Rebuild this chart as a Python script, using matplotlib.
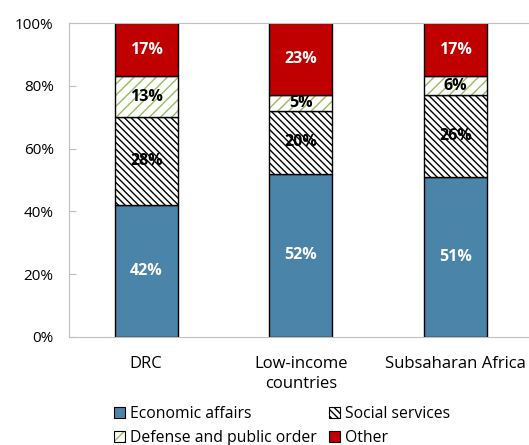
import matplotlib.pyplot as plt
import matplotlib.patches as mpatches
import numpy as np

plt.rcParams['font.family'] = ['Open Sans', 'DejaVu Sans']

categories = ['DRC', 'Low-income\ncountries', 'Subsaharan Africa']
series = ['Economic affairs', 'Social services', 'Defense and public order', 'Other']
economic = [42, 52, 51]
social = [28, 20, 26]
defense = [13, 5, 6]
other = [17, 23, 17]
yticks = [0, 20, 40, 60, 80, 100]

values = [economic, social, defense, other]
fills = ['#4a84a8', 'white', 'white', '#c00000']
hatches = [None, '\\\\\\\\\\', '///', None]
hatch_colors = ['#4a84a8', 'black', '#9bbb59', '#c00000']
text_colors = ['white', 'black', 'black', 'white']

fig = plt.figure(figsize=(5.29, 4.45), dpi=100)
ax = fig.add_axes([0.1304, 0.2427, 0.8696, 0.7056])

x = np.arange(len(categories))
w = 0.41
bottom = np.zeros(len(categories))
handles = []
for vals, fc, h, hc, tc, name in zip(values, fills, hatches, hatch_colors, text_colors, series):
    vals = np.array(vals, dtype=float)
    ax.bar(x, vals, w, bottom=bottom, color=fc, hatch=h, edgecolor=hc, linewidth=0)
    ax.bar(x, vals, w, bottom=bottom, fill=False, edgecolor='black', linewidth=1.0)
    for xi, v, b in zip(x, vals, bottom):
        ax.text(xi, b + v / 2, f'{int(v)}%', ha='center', va='center',
                color=tc, fontsize=11.5, fontweight='bold')
    bottom += vals
    handles.append((mpatches.Patch(facecolor=fc, hatch=h, edgecolor=hc, linewidth=0),
                    mpatches.Patch(fill=False, edgecolor='black', linewidth=0.8)))

ax.set_xlim(-0.5, 2.477)
ax.set_ylim(0, 100)
ax.set_xticks(x)
ax.set_xticklabels(categories, fontsize=12, linespacing=1.3)
ax.set_yticks(yticks)
ax.set_yticklabels([f'{t}%' for t in yticks], fontsize=11)
ax.tick_params(axis='x', length=0, pad=14)
ax.tick_params(axis='y', direction='in', length=5, color='#bfbfbf', pad=11)
for s in ['left', 'bottom', 'top']:
    ax.spines[s].set_color('#bfbfbf')
ax.spines['right'].set_visible(False)

# legend fills row by row: Economic, Social / Defense, Other
order = [0, 2, 1, 3]
ax.legend([handles[i] for i in order], [series[i] for i in order],
          loc='upper left', bbox_to_anchor=(0.085, -0.2), ncol=2,
          frameon=False, fontsize=11.3, handlelength=0.7, handleheight=0.7,
          handletextpad=0.3, columnspacing=0.8, labelspacing=0.5, borderaxespad=0)

fig.savefig('out.png', dpi=100)
